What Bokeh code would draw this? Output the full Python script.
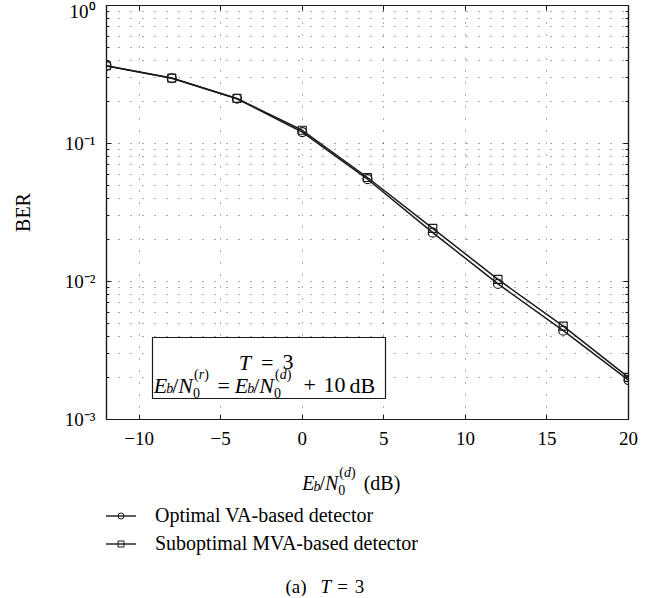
import numpy as np
from bokeh.plotting import figure
from bokeh.layouts import column
from bokeh.models import (ColumnDataSource, FixedTicker, LinearAxis, LogAxis, Label,
                          BoxAnnotation, Legend, LegendItem, Range1d)
from bokeh.embed import file_html
from bokeh.resources import INLINE

# ---------------- data ----------------
snr_db = [-12, -8, -4, 0, 4, 8, 12, 16, 20]
ber_optimal_va = [0.365, 0.297, 0.211, 0.121, 0.0551, 0.0226, 0.00961, 0.00440, 0.00193]
ber_suboptimal_mva = [0.366, 0.298, 0.212, 0.1247, 0.0567, 0.0243, 0.01035, 0.00475, 0.00202]
series_labels = ["Optimal VA-based detector", "Suboptimal MVA-based detector"]

x_ticks = [-10, -5, 0, 5, 10, 15, 20]
x_tick_labels = ["\u221210", "\u22125", "0", "5", "10", "15", "20"]
y_decades = [1e-3, 1e-2, 1e-1, 1e0]
y_tick_labels = ["10\u207b\u00b3", "10\u207b\u00b2", "10\u207b\u00b9", "10\u2070"]
y_minor_mantissas = [2, 3, 4, 5, 6, 7, 8, 9]

SERIF = "Liberation Serif"
INK = "#1a1a1a"
GRID = "#303030"

W = 659
H_PLOT = 458
H_TEXT = 138
BORDER_L, BORDER_R = 106, 31

# ================= main plot =================
p = figure(width=W, height=H_PLOT, x_range=Range1d(-12, 20), y_range=Range1d(1e-3, 1.0),
           y_axis_type="log", output_backend="svg", toolbar_location=None,
           min_border_left=BORDER_L, min_border_right=BORDER_R, min_border_top=5,
           min_border_bottom=39, background_fill_color="white", border_fill_color="white")

y_minor = [m * d for d in y_decades[:-1] for m in y_minor_mantissas]
xticker = FixedTicker(ticks=x_ticks, minor_ticks=[])
yticker = FixedTicker(ticks=y_decades, minor_ticks=y_minor)


def style_axis(ax):
    ax.axis_line_color = INK
    ax.axis_line_width = 1.2
    ax.major_tick_line_color = INK
    ax.minor_tick_line_color = INK
    ax.major_tick_in = 5
    ax.major_tick_out = 0
    ax.minor_tick_in = 3
    ax.minor_tick_out = 0
    ax.major_label_text_font = SERIF
    ax.major_label_text_font_size = "19px"
    ax.major_label_text_color = "black"


xax = p.xaxis[0]
xax.ticker = xticker
style_axis(xax)
xax.major_label_overrides = dict(zip(x_ticks, x_tick_labels))
xax.major_label_standoff = 12

yax = p.yaxis[0]
yax.ticker = yticker
style_axis(yax)
yax.major_label_overrides = dict(zip(y_decades, y_tick_labels))
yax.major_label_standoff = 11
yax.axis_label = "BER"
yax.axis_label_text_font = SERIF
yax.axis_label_text_font_style = "normal"
yax.axis_label_text_font_size = "20px"
yax.axis_label_text_color = "black"
yax.axis_label_standoff = 28

top_ax = LinearAxis(ticker=xticker, major_label_overrides={v: "" for v in x_ticks})
style_axis(top_ax)
top_ax.major_label_text_font_size = "0px"
top_ax.major_label_standoff = 0
p.add_layout(top_ax, "above")
right_ax = LogAxis(ticker=yticker, major_label_overrides={v: "" for v in y_decades})
style_axis(right_ax)
right_ax.major_label_text_font_size = "0px"
right_ax.major_label_standoff = 0
p.add_layout(right_ax, "right")

p.xgrid.ticker = xticker
p.ygrid.ticker = yticker
for g in (p.xgrid[0], p.ygrid[0]):
    g.grid_line_color = GRID
    g.grid_line_dash = "1 11"
    g.grid_line_width = 1
    g.grid_line_alpha = 0.8
p.ygrid[0].minor_grid_line_color = GRID
p.ygrid[0].minor_grid_line_dash = "1 11"
p.ygrid[0].minor_grid_line_alpha = 0.8

p.outline_line_color = INK
p.outline_line_width = 1.2

src = ColumnDataSource(data=dict(snr=snr_db, opt=ber_optimal_va, sub=ber_suboptimal_mva))
p.line("snr", "opt", source=src, line_color=INK, line_width=1.5)
p.scatter("snr", "opt", source=src, marker="circle", size=9, fill_color=None,
          line_color=INK, line_width=1.2)
p.line("snr", "sub", source=src, line_color=INK, line_width=1.5)
p.scatter("snr", "sub", source=src, marker="square", size=8, fill_color=None,
          line_color=INK, line_width=1.2)

# ================= text strip below (frame aligned with the plot frame) =================
# its ranges lie away from the data, so the series drawn here only feed the legend samples
q = figure(width=W, height=H_TEXT, x_range=Range1d(1000, 1001), y_range=Range1d(1000, 1001),
           output_backend="svg", toolbar_location=None,
           x_axis_location=None, y_axis_location=None,
           min_border_left=BORDER_L, min_border_right=BORDER_R, min_border_top=0,
           min_border_bottom=0, background_fill_color="white", border_fill_color="white",
           outline_line_color=None)
q.grid.visible = False

lg_l1 = q.line("snr", "opt", source=src, line_color=INK, line_width=1.4)
lg_m1 = q.scatter("snr", "opt", source=src, marker="circle", fill_color=None,
                  line_color=INK, line_width=1.0)
lg_l2 = q.line("snr", "sub", source=src, line_color=INK, line_width=1.4)
lg_m2 = q.scatter("snr", "sub", source=src, marker="square", fill_color=None,
                  line_color=INK, line_width=1.0)
legend = Legend(items=[LegendItem(label=series_labels[0], renderers=[lg_l1, lg_m1]),
                       LegendItem(label=series_labels[1], renderers=[lg_l2, lg_m2])],
                location=(-1, 40), padding=0, margin=0, spacing=3,
                glyph_width=31, glyph_height=15, label_height=25, label_standoff=19,
                label_text_font=SERIF, label_text_font_size="20px", label_text_color="black",
                border_line_color=None, background_fill_color=None)
q.add_layout(legend)

# ---------------- text helpers ----------------
UP_W = {"0": .5, "1": .5, "2": .5, "3": .5, "(": .333, ")": .333, "/": .278, "=": .564,
        "+": .564, " ": .25, "d": .5, "B": .667, "a": .444}
IT_W = {"E": .611, "b": .5, "N": .667, "T": .556, "d": .5, "r": .389}


def text_w(s, size, italic):
    tbl = IT_W if italic else UP_W
    return sum(tbl.get(c, 0.5) for c in s) * size


def put(fig, text, x, y, size, italic=False):
    fig.add_layout(Label(x=x, y=y, x_units="screen", y_units="screen", text=text,
                         text_font=SERIF, text_font_size=f"{size}px",
                         text_font_style="italic" if italic else "normal",
                         text_align="left", text_baseline="alphabetic", text_color="black"))


def compose(fig, runs, x0, y0):
    x = x0
    for run in runs:
        if isinstance(run, (int, float)):
            x += run
            continue
        if run[0] == "stack":
            ends = []
            for row in run[1:]:
                xx = x
                for item in row:
                    if isinstance(item, (int, float)):
                        xx += item
                        continue
                    s, size, ital, dy = item
                    put(fig, s, xx, y0 + dy, size, ital)
                    xx += text_w(s, size, ital)
                ends.append(xx)
            x = max(ends)
            continue
        s, size, ital, dy = run
        put(fig, s, x, y0 + dy, size, ital)
        x += text_w(s, size, ital)
    return x


def ebn0(F, f, sup, dsub_b, dsub_0, dsup, k_b=-1.0, k_slash=-1.0, k_n=0.0):
    return [("E", F, True, 0), k_b, ("b", f, True, dsub_b), k_slash, ("/", F, False, 0), k_n,
            ("N", F, True, 0),
            ("stack", [("0", f, False, dsub_0)],
             [1, ("(", f, False, dsup), (sup, f, True, dsup), (")", f, False, dsup)])]


# annotation box inside the plot frame (coords: px from frame left / bottom)
p.add_layout(BoxAnnotation(left=46, right=279, bottom=21, top=82,
                           left_units="screen", right_units="screen",
                           bottom_units="screen", top_units="screen",
                           fill_color="white", fill_alpha=1.0,
                           line_color=INK, line_width=1.2, line_alpha=1.0))
compose(p, [("T", 22, True, 0), 10, ("=", 22, False, 0), 9, ("3", 22, False, 0)], 132.3, 57.3)
compose(p, ebn0(22, 14, "r", -3.5, -7.5, 10.5), 47.3, 34.5)
compose(p, [("=", 22, False, 0)], 111, 34.5)
compose(p, ebn0(22, 14, "d", -3.5, -7.5, 10.5), 128.3, 34.5)
compose(p, [("+", 22, False, 0)], 197, 34.5)
compose(p, [("10", 22, False, 0)], 217, 34.5)
compose(p, [("dB", 22, False, 0)], 243, 34.5)

# x axis title (strip coords: px from strip frame left / bottom)
compose(q, ebn0(20, 14, "d", -3.7, -6.7, 10.8) + [8, ("(dB)", 20, False, 0)], 195.7, 113.5)

# caption
compose(q, [("(a)", 19, False, 0), 14, ("T", 19, True, 0), 6, ("=", 19, False, 0), 7,
            ("3", 19, False, 0)], 179, 10)

layout = column(p, q, spacing=0)
open("out.html", "w").write(file_html(layout, INLINE))
